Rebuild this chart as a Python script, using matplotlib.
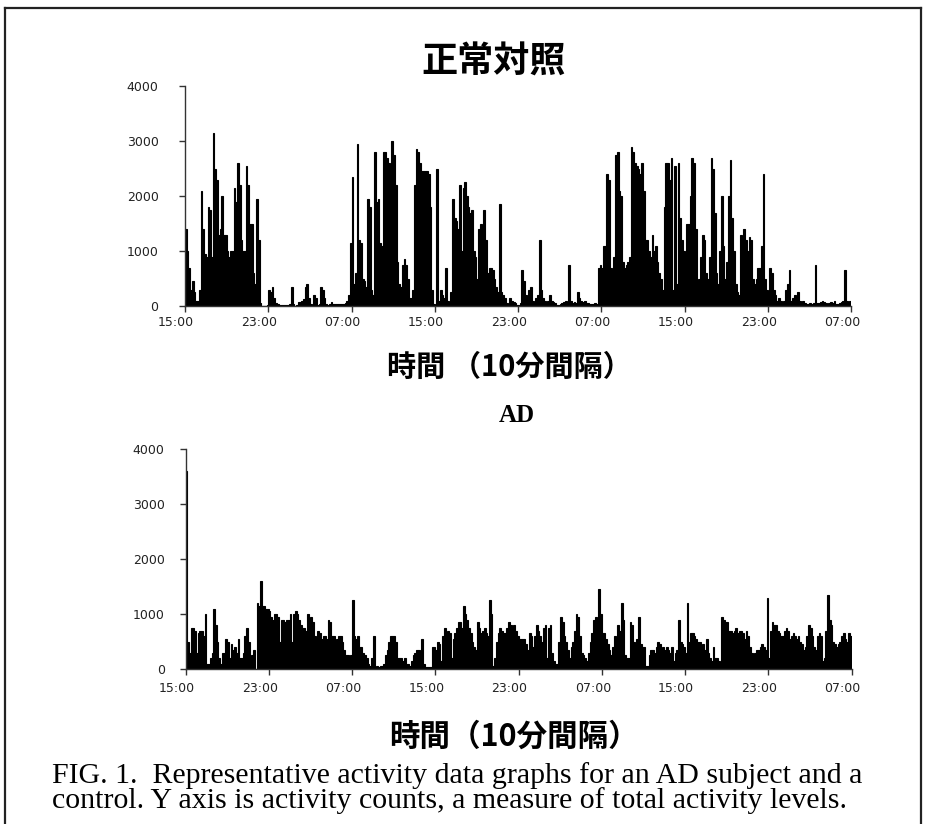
import numpy as np
import matplotlib
matplotlib.use('Agg')
import matplotlib.pyplot as plt
from matplotlib.transforms import ScaledTranslation
from matplotlib.lines import Line2D

# ---------------- data (activity counts per 10-minute epoch) ----------------
tick_labels = ['15:00', '23:00', '07:00', '15:00', '23:00', '07:00', '15:00', '23:00', '07:00']
y_ticks = [0, 1000, 2000, 3000, 4000]

# normal control, one list per 8-hour block (48 epochs each)
ctrl_seg1 = [1400, 1000, 700, 300, 450, 250, 100, 100, 300, 2100, 1400, 950, 900, 1800, 1750, 900,
             3150, 2500, 2300, 1300, 1400, 2000, 1300, 1300, 1000, 900, 1000, 1000, 2150, 1900, 2600, 2200,
             1200, 1000, 1000, 2550, 2200, 1500, 1500, 600, 400, 1950, 1200, 50, 0, 0, 0, 10]
ctrl_seg2 = [300, 250, 350, 150, 60, 30, 20, 20, 20, 20, 20, 20, 30, 350, 30, 0,
             20, 80, 80, 100, 120, 350, 400, 150, 30, 20, 200, 150, 20, 40, 350, 300,
             150, 30, 20, 30, 80, 30, 30, 30, 30, 30, 40, 30, 50, 100, 200, 1150]
ctrl_seg3 = [2350, 400, 600, 2950, 1200, 1150, 500, 450, 350, 1950, 1800, 300, 200, 2800, 1900, 1950,
             1150, 1100, 2800, 2800, 2700, 2600, 2200, 3000, 2750, 2200, 800, 400, 350, 750, 850, 750,
             500, 150, 150, 300, 2200, 2850, 2800, 2600, 2450, 2450, 2450, 2450, 2400, 1800, 300, 30]
ctrl_seg4 = [0, 2500, 100, 300, 200, 150, 700, 100, 50, 250, 1950, 1600, 1550, 1400, 2200, 1000,
             2150, 2250, 2000, 1800, 1700, 1750, 1000, 900, 500, 1400, 1500, 800, 1750, 1200, 600, 700,
             700, 650, 500, 350, 250, 1850, 250, 200, 150, 60, 30, 150, 100, 80, 50, 20]
ctrl_seg5 = [20, 50, 650, 450, 200, 150, 300, 350, 100, 80, 150, 200, 1200, 300, 150, 100,
             80, 100, 200, 100, 80, 50, 20, 20, 30, 50, 80, 100, 50, 750, 100, 50,
             80, 50, 250, 150, 100, 80, 100, 50, 50, 30, 30, 30, 50, 30, 700, 750]
ctrl_seg6 = [700, 1100, 1100, 2400, 2300, 700, 600, 900, 2750, 2800, 2100, 2000, 800, 700, 750, 800,
             900, 2900, 2800, 2600, 2550, 2500, 2400, 2600, 2100, 1200, 1200, 1000, 900, 1300, 1000, 1100,
             800, 600, 500, 300, 1800, 2600, 2600, 2300, 2700, 300, 2550, 400, 2600, 1600, 1200, 1000]
ctrl_seg7 = [700, 1500, 1500, 2000, 2700, 2600, 1400, 400, 500, 900, 1300, 1200, 600, 500, 900, 2700,
             2500, 1700, 600, 400, 1000, 2000, 1100, 500, 800, 2000, 2650, 1600, 1000, 400, 250, 200,
             1300, 400, 1400, 1200, 1000, 1250, 1200, 500, 400, 500, 700, 700, 1100, 2400, 500, 300]
ctrl_seg8 = [200, 700, 600, 300, 200, 100, 150, 100, 50, 100, 300, 400, 650, 100, 150, 200,
             150, 250, 100, 50, 100, 50, 30, 30, 50, 40, 50, 750, 50, 50, 80, 100,
             80, 50, 30, 50, 80, 50, 100, 40, 30, 50, 80, 100, 650, 100, 80, 100]

# AD subject
ad_seg1 = [3600, 500, 300, 750, 750, 700, 300, 650, 700, 700, 600, 1000, 100, 100, 200, 300,
           1100, 800, 500, 200, 100, 300, 300, 550, 500, 200, 450, 350, 400, 300, 550, 200,
           200, 300, 600, 750, 500, 200, 250, 350, 0, 1200, 1150, 1600, 1150, 1150, 1100, 1100]
ad_seg2 = [1050, 950, 900, 1000, 1000, 950, 500, 900, 900, 850, 900, 900, 1000, 500, 1000, 1050,
           1000, 900, 800, 750, 750, 700, 1000, 600, 950, 850, 600, 500, 700, 650, 550, 600,
           600, 550, 900, 850, 600, 600, 500, 550, 600, 600, 500, 350, 250, 250, 200, 250]
ad_seg3 = [1250, 600, 550, 600, 400, 400, 300, 250, 200, 100, 50, 200, 600, 0, 50, 30,
           50, 50, 100, 250, 350, 500, 600, 600, 600, 500, 200, 200, 200, 150, 200, 100,
           100, 50, 150, 250, 300, 350, 350, 200, 550, 100, 30, 30, 30, 30, 400, 400]
ad_seg4 = [350, 500, 450, 150, 600, 750, 500, 700, 650, 200, 550, 650, 750, 850, 850, 750,
           1150, 1000, 900, 750, 650, 500, 400, 350, 850, 750, 650, 700, 750, 650, 600, 1250,
           1000, 50, 200, 500, 650, 750, 700, 650, 650, 750, 850, 800, 750, 800, 700, 600]
ad_seg5 = [550, 550, 550, 550, 450, 350, 650, 600, 400, 600, 800, 700, 600, 500, 750, 800,
           200, 750, 800, 300, 150, 100, 100, 500, 950, 850, 600, 500, 350, 200, 400, 500,
           700, 1000, 950, 600, 300, 250, 200, 150, 300, 500, 650, 900, 950, 800, 1450, 1000]
ad_seg6 = [650, 650, 550, 450, 350, 250, 400, 600, 550, 800, 700, 1200, 900, 250, 200, 200,
           850, 800, 500, 400, 550, 950, 450, 400, 400, 50, 50, 250, 350, 350, 300, 400,
           500, 450, 350, 400, 350, 400, 350, 300, 400, 150, 300, 350, 900, 500, 450, 400]
ad_seg7 = [300, 1200, 500, 650, 650, 600, 550, 500, 500, 300, 450, 350, 550, 300, 200, 150,
           400, 200, 200, 150, 100, 950, 900, 850, 850, 700, 700, 650, 700, 750, 650, 700,
           700, 650, 550, 700, 600, 400, 300, 250, 300, 350, 350, 400, 450, 400, 350, 1300]
ad_seg8 = [200, 700, 850, 800, 800, 700, 650, 600, 600, 700, 750, 700, 550, 600, 650, 600,
           550, 600, 500, 450, 350, 400, 600, 800, 750, 600, 400, 350, 600, 650, 600, 150,
           200, 700, 1350, 900, 800, 500, 450, 400, 450, 500, 600, 650, 550, 500, 650, 600]

ctrl = ctrl_seg1 + ctrl_seg2 + ctrl_seg3 + ctrl_seg4 + ctrl_seg5 + ctrl_seg6 + ctrl_seg7 + ctrl_seg8
ad = ad_seg1 + ad_seg2 + ad_seg3 + ad_seg4 + ad_seg5 + ad_seg6 + ad_seg7 + ad_seg8
epochs_per_tick = 48

# ---------------- figure ----------------
W, H = 926, 824
fig = plt.figure(figsize=(W / 100, H / 100), dpi=100)
fig.patch.set_facecolor('white')


def rect(l, r, b, t):
    return [l / W, 1 - b / H, (r - l) / W, (b - t) / H]


def draw(ax, vals, ypad, xpad):
    x = np.arange(len(vals))
    ax.bar(x, vals, width=1.0, align='edge', color='black', edgecolor='black', linewidth=0.8)
    ax.set_xlim(0, len(vals))
    ax.set_ylim(0, 4000)
    for s in ['top', 'right']:
        ax.spines[s].set_visible(False)
    for s in ['left', 'bottom']:
        ax.spines[s].set_color('#333333')
        ax.spines[s].set_linewidth(1.0)
    ax.set_yticks(y_ticks)
    ax.set_yticklabels([str(v) for v in y_ticks])
    ax.set_xticks(np.arange(0, len(vals) + 1, epochs_per_tick))
    ax.set_xticklabels(tick_labels)
    ax.tick_params(axis='y', length=4, width=1, color='#333333', pad=ypad, labelsize=9, labelcolor='#222222')
    ax.tick_params(axis='x', length=4, width=1, color='#333333', pad=xpad, labelsize=9, labelcolor='#222222')
    for lbl in ax.get_xticklabels():
        lbl.set_transform(lbl.get_transform() + ScaledTranslation(-9 / 100, 0, fig.dpi_scale_trans))
    for lbl in ax.get_xticklabels() + ax.get_yticklabels():
        lbl.set_fontfamily('DejaVu Sans')


ax1 = fig.add_axes(rect(185, 851, 306, 86))
draw(ax1, ctrl, 15, 3)
ax2 = fig.add_axes(rect(185.5, 851.5, 669, 449))
draw(ax2, ad, 11, 5)

cjk = ['Noto Sans CJK JP', 'DejaVu Sans']
serif = ['Liberation Serif', 'DejaVu Serif']
fig.text(494 / W, 1 - 62 / H, '正常対照', ha='center', va='center', fontsize=26,
         fontweight='bold', family=cjk)
fig.text(509 / W, 1 - 367 / H, '時間 （10分間隔）', ha='center', va='center', fontsize=21,
         fontweight='bold', family=cjk)
fig.text(517 / W, 1 - 416 / H, 'AD', ha='center', va='center', fontsize=18,
         fontweight='bold', family=serif)
fig.text(514 / W, 1 - 737 / H, '時間（10分間隔）', ha='center', va='center', fontsize=22,
         fontweight='bold', family=cjk)
fig.text(52 / W, 1 - 776 / H,
         'FIG. 1.  Representative activity data graphs for an AD subject and a',
         ha='left', va='center', fontsize=21.5, family=serif)
fig.text(52 / W, 1 - 801 / H,
         'control. Y axis is activity counts, a measure of total activity levels.',
         ha='left', va='center', fontsize=21.5, family=serif)

# frame around the figure panel
for (x0, y0, x1, y1) in [(5, 8, 5, H), (5, 8, 921, 8), (921, 8, 921, H)]:
    fig.add_artist(Line2D([x0 / W, x1 / W], [1 - y0 / H, 1 - y1 / H], transform=fig.transFigure,
                          color='#222222', linewidth=1.6))

fig.savefig('out.png', dpi=100)
